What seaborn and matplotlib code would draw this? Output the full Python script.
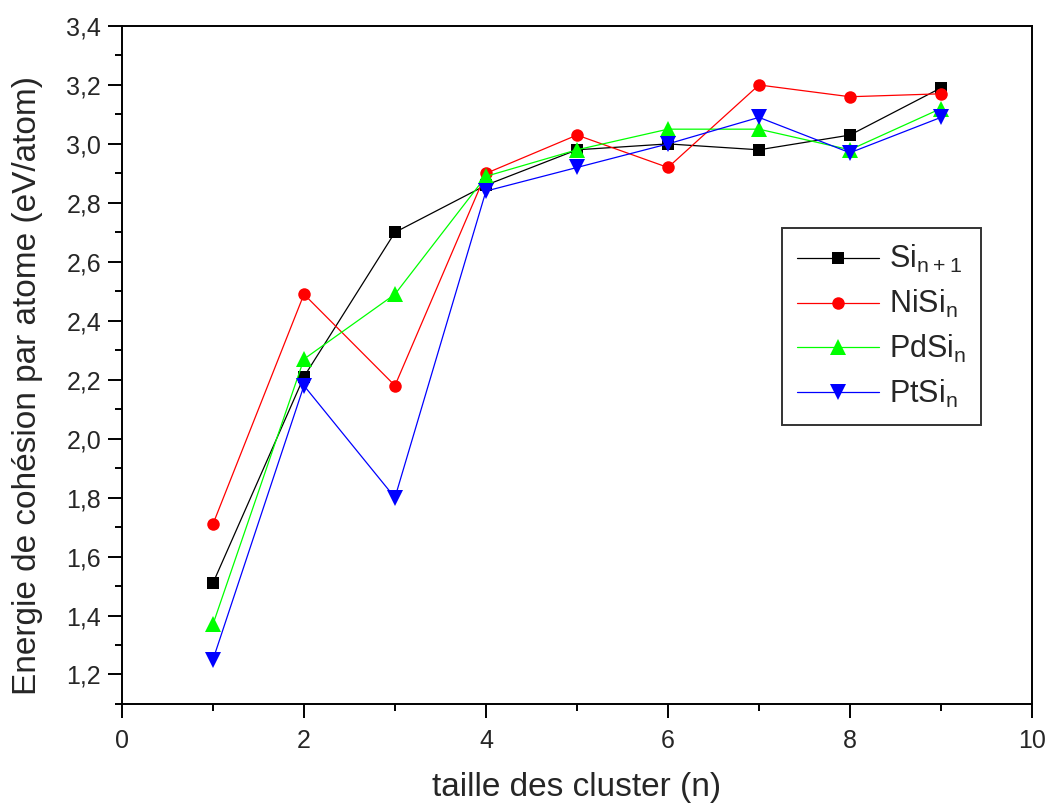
import numpy as np
import pandas as pd
import matplotlib
matplotlib.use('Agg')
import matplotlib.pyplot as plt
from matplotlib.ticker import MultipleLocator, FuncFormatter
import seaborn as sns

#### DATA

n_values = [1, 2, 3, 4, 5, 6, 7, 8, 9]

E_Si = [1.51, 2.21, 2.70, 2.86, 2.98, 3.00, 2.98, 3.03, 3.19]
E_NiSi = [1.71, 2.49, 2.18, 2.90, 3.03, 2.92, 3.20, 3.16, 3.17]
E_PdSi = [1.37, 2.27, 2.49, 2.89, 2.98, 3.05, 3.05, 2.98, 3.12]
E_PtSi = [1.25, 2.18, 1.80, 2.84, 2.92, 3.00, 3.09, 2.97, 3.09]

labels = [r'Si$_{\mathregular{n+1}}$', r'NiSi$_{\mathregular{n}}$',
          r'PdSi$_{\mathregular{n}}$', r'PtSi$_{\mathregular{n}}$']

#### STYLE

sns.set_style("white")
plt.rcParams['font.family'] = ['Liberation Sans', 'DejaVu Sans']
plt.rcParams['mathtext.fontset'] = 'custom'
plt.rcParams['mathtext.rm'] = 'Liberation Sans'

series = [E_Si, E_NiSi, E_PdSi, E_PtSi]
colors = ['black', 'red', '#00ff00', 'blue']
markers = ['s', 'o', '^', 'v']
msizes = [8, 9, 12, 12]

#### PLOT

fig = plt.figure(figsize=(10.54, 8.10), dpi=100)
ax = fig.add_axes([0.1157, 0.1309, 0.8634, 0.8370])

for vals, lab, col, mk, ms in zip(series, labels, colors, markers, msizes):
    df = pd.DataFrame({'n': n_values, 'E': vals})
    sns.lineplot(data=df, x='n', y='E', ax=ax, color=col, marker=mk,
                 markersize=ms, markeredgewidth=0, linewidth=0.9, label=lab)

ax.set_xlim(0, 10)
ax.set_ylim(1.1, 3.4)
ax.xaxis.set_major_locator(MultipleLocator(2))
ax.xaxis.set_minor_locator(MultipleLocator(1))
ax.yaxis.set_major_locator(MultipleLocator(0.2))
ax.yaxis.set_minor_locator(MultipleLocator(0.1))
ax.xaxis.set_major_formatter(FuncFormatter(lambda v, p: f"{v:.0f}"))
ax.yaxis.set_major_formatter(FuncFormatter(lambda v, p: f"{v:.1f}".replace('.', ',')))

ax.tick_params(which='both', direction='out', bottom=True, left=True, top=False, right=False,
               color='black', width=1.4)
ax.tick_params(which='major', length=10, labelsize=18)
ax.tick_params(axis='x', which='major', pad=8)
ax.tick_params(axis='y', which='major', pad=5)
ax.tick_params(which='minor', length=5)

for sp in ax.spines.values():
    sp.set_color('black')
    sp.set_linewidth(1.4)

ax.set_xlabel('taille des cluster (n)', fontsize=24, labelpad=14)
ax.set_ylabel('Energie de cohésion par atome (eV/atom)', fontsize=24)
ax.yaxis.set_label_coords(-0.087, 0.47)

leg = ax.legend(loc='upper left', bbox_to_anchor=(0.725, 0.702), borderaxespad=0,
                fontsize=22, frameon=True, fancybox=False, edgecolor='black',
                handlelength=2.7, labelspacing=0.42, handletextpad=0.3, borderpad=0.5)
leg.get_frame().set_linewidth(1.4)

fig.savefig('out.png', dpi=100)
